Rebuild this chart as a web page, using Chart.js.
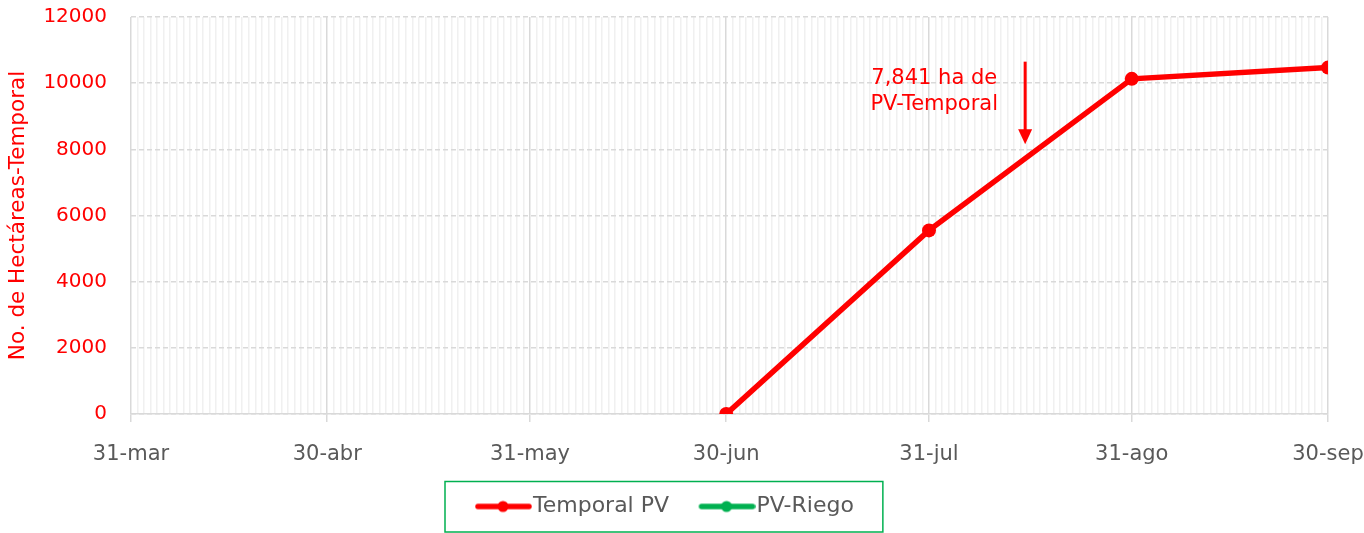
<!DOCTYPE html>
<html>
<head>
<meta charset="utf-8">
<script src="https://cdn.jsdelivr.net/npm/chart.js@4/dist/chart.umd.min.js"></script>
<style>
  html, body { margin: 0; padding: 0; background: #fff; }
  #wrap { width: 1364px; height: 533px; }
</style>
</head>
<body>
<div id="wrap"><canvas id="chart"></canvas></div>
<script>
// x values are days counted from 31-mar
const monthDays = [0, 30, 61, 91, 122, 153, 183];
const monthLabels = ['31-mar', '30-abr', '31-may', '30-jun', '31-jul', '31-ago', '30-sep'];
const temporalDays = [91, 122, 153, 183];
const temporalValues = [0, 5550, 10130, 10470];
const riegoDays = [];
const riegoValues = [];
const yTicks = [0, 2000, 4000, 6000, 8000, 10000, 12000];
const noteLines = ['7,841 ha de', 'PV-Temporal'];

const FONT = "'DejaVu Sans', 'Open Sans', sans-serif";
const RED = '#ff0000';
const GREEN = '#00b050';
const GREY = '#595959';

// legend marker: line with a dot, drawn on a small canvas
function legendMarker(color) {
    const c = document.createElement('canvas');
    c.width = 74;
    c.height = 14;
    const ctx = c.getContext('2d');
    ctx.strokeStyle = color;
    ctx.lineWidth = 5.5;
    ctx.lineCap = 'round';
    ctx.beginPath();
    ctx.moveTo(20, 7);
    ctx.lineTo(71, 7);
    ctx.stroke();
    ctx.fillStyle = color;
    ctx.beginPath();
    ctx.arc(45, 7, 5.5, 0, Math.PI * 2);
    ctx.fill();
    return c;
}

// arrow + text note
const notePlugin = {
    id: 'note',
    afterDatasetsDraw(chart) {
        const { ctx, scales: { x, y } } = chart;
        const ax = x.getPixelForValue(136.7);
        const top = y.getPixelForValue(10650);
        const tip = y.getPixelForValue(8150);
        ctx.save();
        ctx.strokeStyle = RED;
        ctx.fillStyle = RED;
        ctx.lineWidth = 3;
        ctx.beginPath();
        ctx.moveTo(ax, top);
        ctx.lineTo(ax, tip - 12);
        ctx.stroke();
        ctx.beginPath();
        ctx.moveTo(ax - 7, tip - 15);
        ctx.lineTo(ax + 7, tip - 15);
        ctx.lineTo(ax, tip);
        ctx.closePath();
        ctx.fill();

        ctx.font = '21px ' + FONT;
        ctx.textAlign = 'center';
        ctx.textBaseline = 'middle';
        const tx = x.getPixelForValue(122.8);
        ctx.fillText(noteLines[0], tx, y.getPixelForValue(10130));
        ctx.fillText(noteLines[1], tx, y.getPixelForValue(9350));
        ctx.restore();
    }
};

// move the legend a little and put a green frame round it
const legendBoxPlugin = {
    id: 'legendBox',
    beforeDraw(chart) {
        const lg = chart.legend;
        if (!lg || !lg.legendHitBoxes.length) return;
        const dx = 468 - lg.legendHitBoxes[0].left;
        const dy = 495.5 - lg.legendHitBoxes[0].top;
        lg.left += dx;
        lg.right += dx;
        lg.top += dy;
        lg.bottom += dy;
        lg.legendHitBoxes.forEach(b => { b.left += dx; b.top += dy; });
    },
    afterDraw(chart) {
        const boxes = chart.legend && chart.legend.legendHitBoxes || [];
        if (!boxes.length) return;
        const first = boxes[0];
        const last = boxes[boxes.length - 1];
        const cy = first.top + first.height / 2;
        const left = first.left - 23;
        const right = last.left + last.width + 29;
        const ctx = chart.ctx;
        ctx.save();
        ctx.strokeStyle = GREEN;
        ctx.lineWidth = 1.5;
        ctx.strokeRect(left, cy - 25, right - left, 50.5);
        ctx.restore();
    }
};

const isMonth = v => monthDays.includes(v);

new Chart(document.getElementById('chart'), {
    type: 'line',
    data: {
        datasets: [{
            label: 'Temporal PV',
            data: temporalDays.map((d, i) => ({ x: d, y: temporalValues[i] })),
            borderColor: RED,
            backgroundColor: RED,
            borderWidth: 5.5,
            pointRadius: 7,
            pointBackgroundColor: RED,
            pointBorderWidth: 0
        }, {
            label: 'PV-Riego',
            data: riegoDays.map((d, i) => ({ x: d, y: riegoValues[i] })),
            borderColor: GREEN,
            backgroundColor: GREEN,
            borderWidth: 5.5,
            pointRadius: 7
        }]
    },
    options: {
        responsive: true,
        maintainAspectRatio: false,
        animation: false,
        layout: { autoPadding: false, padding: { left: 6, top: 6, right: 0, bottom: 6.5 } },
        plugins: {
            legend: {
                position: 'bottom',
                labels: {
                    usePointStyle: true,
                    pointStyleWidth: 54,
                    padding: 22.5,
                    color: GREY,
                    font: { family: FONT, size: 22 },
                    generateLabels(chart) {
                        return chart.data.datasets.map((ds, i) => ({
                            text: ds.label,
                            fontColor: GREY,
                            pointStyle: legendMarker(ds.borderColor),
                            datasetIndex: i,
                            hidden: false,
                            lineWidth: 0
                        }));
                    }
                }
            },
            tooltip: { enabled: false }
        },
        scales: {
            x: {
                type: 'linear',
                min: monthDays[0],
                max: monthDays[monthDays.length - 1],
                afterBuildTicks(axis) {
                    const t = [];
                    for (let d = axis.min; d <= axis.max; d++) t.push({ value: d });
                    axis.ticks = t;
                },
                afterFit(axis) {
                    axis.paddingLeft = 0;
                    axis.paddingRight = 36;
                    axis.height = 58;
                },
                ticks: {
                    autoSkip: false,
                    maxRotation: 0,
                    padding: 20,
                    color: GREY,
                    font: { family: FONT, size: 21 },
                    callback(v) {
                        const k = monthDays.indexOf(v);
                        return k >= 0 ? monthLabels[k] : '';
                    }
                },
                grid: {
                    color: ctx => isMonth(ctx.tick && ctx.tick.value) ? '#d9d9d9' : '#f0f0f0',
                    tickColor: ctx => isMonth(ctx.tick && ctx.tick.value) ? '#d9d9d9' : 'rgba(0,0,0,0)',
                    tickLength: 8,
                    lineWidth: 1.5
                },
                border: { display: true, color: '#d9d9d9', width: 1.5 }
            },
            y: {
                min: 0,
                max: 12000,
                afterBuildTicks(axis) {
                    axis.ticks = yTicks.map(v => ({ value: v }));
                },
                afterFit(axis) {
                    axis.width = 125;
                    axis.paddingTop = 17;
                    axis.paddingBottom = 0;
                },
                title: {
                    display: true,
                    text: 'No. de Hectáreas-Temporal',
                    color: RED,
                    font: { family: FONT, size: 21.5 },
                    padding: { top: 0, bottom: 10 }
                },
                ticks: {
                    color: RED,
                    padding: 24,
                    font: { family: FONT, size: 20 },
                    callback: v => String(v)
                },
                grid: {
                    color: '#d9d9d9',
                    lineWidth: 1.5,
                    drawTicks: false
                },
                border: { display: false, dash: [5, 3] }
            }
        }
    },
    plugins: [notePlugin, legendBoxPlugin]
});
</script>
</body>
</html>
